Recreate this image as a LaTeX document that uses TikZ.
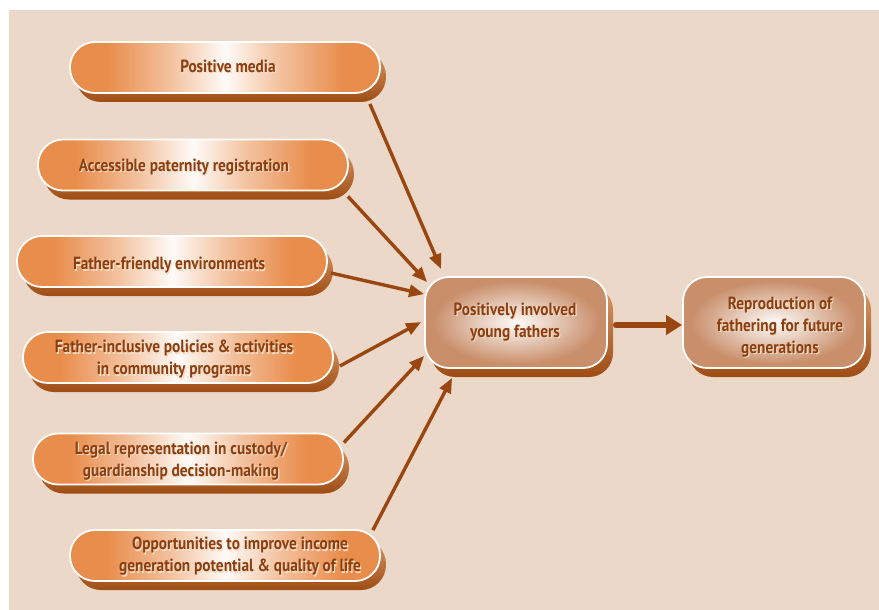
\documentclass[tikz,border=0pt]{standalone}
\usepackage{fontspec}
\setmainfont{PT Sans}[FakeStretch=0.87]
\usetikzlibrary{arrows.meta,shadows,calc}
\definecolor{bgc}{HTML}{EBD8C8}
\definecolor{orng}{HTML}{E98D4C}
\definecolor{tanc}{HTML}{C98E6A}
\definecolor{shtop}{HTML}{D89A68}
\definecolor{shbot}{HTML}{9E4C14}
\definecolor{arrc}{HTML}{9A4610}
\definecolor{txt}{HTML}{8B3E0F}
\definecolor{tshc}{HTML}{F4DCC6}
\pgfdeclarehorizontalshading{pillshade}{100bp}{color(0bp)=(orng); color(31bp)=(orng); color(41bp)=(orng!55!white); color(50bp)=(white!96!orng); color(59bp)=(orng!55!white); color(69bp)=(orng); color(100bp)=(orng)}
\pgfdeclareradialshading{ctrshade}{\pgfpoint{0bp}{0bp}}{color(0bp)=(white!96!tanc); color(9bp)=(tanc!40!white); color(23bp)=(tanc); color(50bp)=(tanc)}
\newcommand\tsh[1]{\rlap{\kern1.2pt\raisebox{-1.2pt}{\color{tshc}#1}}#1}
\tikzset{
  pillbox/.style={rounded corners=25pt, minimum width=310pt, minimum height=51pt, draw=white, line width=1.8pt, shade, shading=pillshade,
    general shadow={shadow xshift=6pt, shadow yshift=-9pt, top color=shtop, bottom color=shbot}},
  ctrbox/.style={rounded corners=24pt, minimum width=182pt, minimum height=91pt, draw=white, line width=1.8pt, shade, shading=ctrshade,
    general shadow={shadow xshift=6pt, shadow yshift=-9pt, top color=shtop, bottom color=shbot}},
  lbl/.style={text=txt, font=\fontsize{17.6}{22}\selectfont\bfseries, align=center, inner sep=0pt},
  arr/.style={draw=arrc, line width=3.4pt, -{Triangle[length=15pt,width=12pt]}},
  bigarr/.style={draw=arrc, line width=6pt, line cap=round, -{Triangle[length=16pt,width=19pt]}},
}
\begin{document}
\begin{tikzpicture}[x=1pt,y=-1pt]
\useasboundingbox (0,0) rectangle (879,610);
\fill[bgc] (9,10) rectangle (879,610);

\node[pillbox] (b1) at (225,67.5) {};
\node[pillbox] (b2) at (193,165) {};
\node[pillbox] (b3) at (172,261.5) {};
\node[pillbox] (b4) at (178,357.5) {};
\node[pillbox] (b5) at (188,459) {};
\node[pillbox] (b6) at (225,555.5) {};
\node[ctrbox] (c) at (516,322.5) {};
\node[ctrbox] (r) at (774,322.5) {};

\node[lbl] (t1) at (228,67) {\tsh{Positive media}};
\node[lbl] (t2) at (184,168) {\tsh{Accessible paternity registration}};
\node[lbl] (t3) at (169,266) {\tsh{Father-friendly environments}};
\node[lbl] (t4) at (174,360) {\tsh{Father-inclusive policies \& activities}\\\tsh{in community programs}};
\node[lbl] (t5) at (181,461.5) {\tsh{Legal representation in custody/}\\\tsh{guardianship decision-making}};
\node[lbl] (t6) at (240,557) {\tsh{Opportunities to improve income}\\\tsh{generation potential \& quality of life}};
\node[lbl] (tc) at (515,322.5) {\tsh{Positively involved}\\\tsh{young fathers}};
\node[lbl] (tr) at (780,328) {\tsh{Reproduction of}\\\tsh{fathering for future}\\\tsh{generations}};

\draw[arr] ($(b1.south east)+(-11,10)$) -- ($(c.north west)+(17,-7)$);
\draw[arr] ($(b2.south east)+(-1,5)$) -- ($(c.north west)+(3,6)$);
\draw[arr] ($(b3.east)+(3,11.5)$) -- ($(c.north west)+(0,18)$);
\draw[arr] ($(b4.east)+(6,8.5)$) -- ($(c.west)+(-3,-0.5)$);
\draw[arr] ($(b5.north east)+(0,10)$) -- ($(c.south west)+(0,-13)$);
\draw[arr] ($(b6.north east)+(-8,1)$) -- ($(c.south west)+(28,9)$);
\draw[bigarr] ($(c.east)+(8,2.5)$) -- ($(r.west)+(0,2.5)$);
\end{tikzpicture}
\end{document}
